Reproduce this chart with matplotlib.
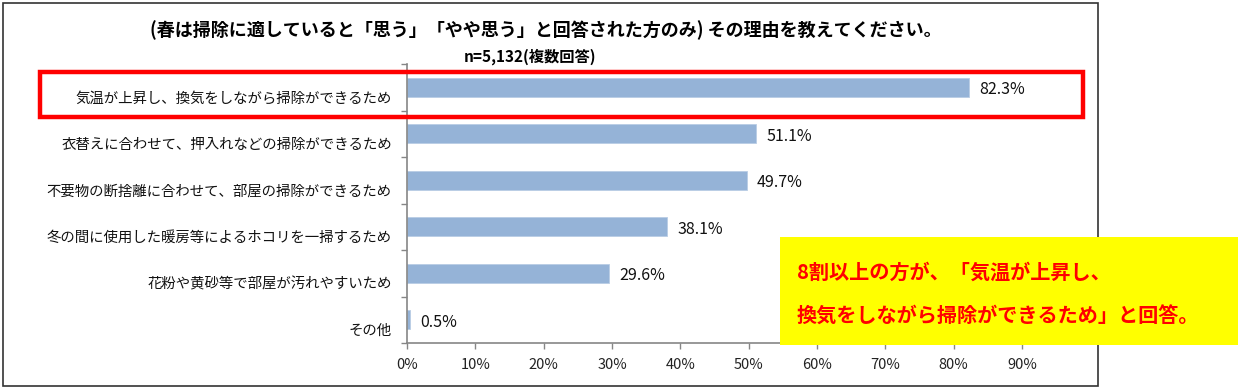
import numpy as np
import matplotlib
matplotlib.use("Agg")
import matplotlib.pyplot as plt
from matplotlib.patches import Rectangle
from matplotlib.transforms import ScaledTranslation

plt.rcParams['font.family'] = ['Noto Sans CJK JP', 'DejaVu Sans']

# data
categories = [
    "気温が上昇し、換気をしながら掃除ができるため",
    "衣替えに合わせて、押入れなどの掃除ができるため",
    "不要物の断捨離に合わせて、部屋の掃除ができるため",
    "冬の間に使用した暖房等によるホコリを一掃するため",
    "花粉や黄砂等で部屋が汚れやすいため",
    "その他",
]
values = [82.3, 51.1, 49.7, 38.1, 29.6, 0.5]
x_ticks = [0, 10, 20, 30, 40, 50, 60, 70, 80, 90]

title = "(春は掃除に適していると「思う」「やや思う」と回答された方のみ) その理由を教えてください。"
subtitle = "n=5,132(複数回答)"
note_lines = ["8割以上の方が、「気温が上昇し、", "換気をしながら掃除ができるため」と回答。"]

BAR = "#95B3D7"
AXIS = "#868686"

W, H = 1240, 390
fig = plt.figure(figsize=(W / 100, H / 100), dpi=100)


def px(x, y):
    # pixel (from top-left) -> figure fraction
    return x / W, 1 - y / H


# outer chart frame
x0, y0 = px(3, 386)
fig.patches.append(Rectangle((x0, y0), 1095 / W, 383 / H, transform=fig.transFigure,
                             fill=False, edgecolor="#333333", linewidth=1.2, zorder=0))

ax = fig.add_axes([407 / W, 1 - 343 / H, (1022 - 407) / W, (343 - 64) / H])
ypos = np.arange(len(categories))
ax.barh(ypos, values, height=0.4, color=BAR, edgecolor="#B9CDE5", linewidth=0.6)

ax.set_xlim(0, 90)
ax.set_ylim(len(categories) - 0.5, -0.5)
ax.set_xticks(x_ticks)
ax.set_xticklabels([f"{t}%" for t in x_ticks], fontsize=10.5, color="#222222")
ax.set_yticks(ypos)
ax.set_yticklabels(categories, fontsize=10.4, color="#111111")
ax.set_yticks(np.arange(-0.5, len(categories), 1.0), minor=True)
ax.tick_params(axis='y', which='major', length=0, pad=11)
ax.tick_params(axis='y', which='minor', length=4, color=AXIS, width=1)
ax.tick_params(axis='x', length=4, color=AXIS, width=1, pad=7)

# category labels sit a little below the bar centre, as in the source
shift = ScaledTranslation(0, -0.1, fig.dpi_scale_trans)
for lbl in ax.get_yticklabels():
    lbl.set_transform(lbl.get_transform() + shift)

for side in ("top", "right"):
    ax.spines[side].set_visible(False)
for side in ("left", "bottom"):
    ax.spines[side].set_color(AXIS)
    ax.spines[side].set_linewidth(1.2)

for y, v in zip(ypos, values):
    ax.text(v + 1.5, y + 0.05, f"{v}%", va="center", ha="left", fontsize=11.5, color="#111111")

# titles
tx, ty = px(546, 30)
fig.text(tx, ty, title, ha="center", va="center", fontsize=13, fontweight="bold")
sx, sy = px(530, 57)
fig.text(sx, sy, subtitle, ha="center", va="center", fontsize=11, fontweight="bold")

# red highlight box
rx, ry = px(40, 117)
fig.patches.append(Rectangle((rx, ry), (1083 - 40) / W, 45 / H, transform=fig.transFigure,
                             fill=False, edgecolor="#FF0000", linewidth=3.2, zorder=5))

# yellow note
bx, by = px(780, 345)
fig.patches.append(Rectangle((bx, by), (1238 - 780) / W, 108 / H, transform=fig.transFigure,
                             facecolor="#FFFF00", edgecolor="none", zorder=6))
for i, line in enumerate(note_lines):
    lx, ly = px(797, 272 + i * 44)
    fig.text(lx, ly, line, ha="left", va="center", fontsize=14.5, fontweight="bold",
             color="#FF0000", zorder=7)

fig.savefig("out.png", dpi=100)
